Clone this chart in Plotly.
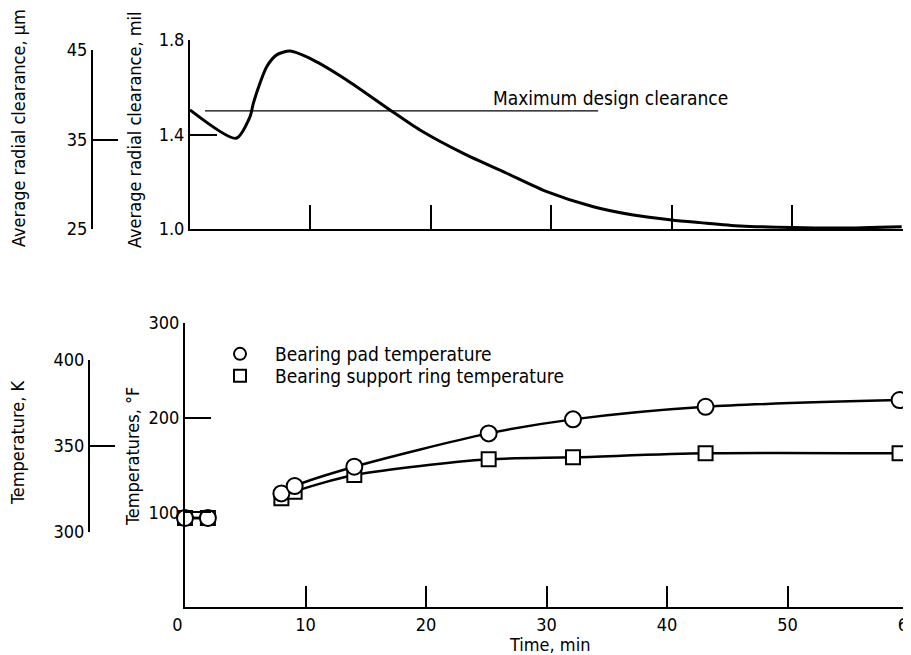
import plotly.graph_objects as go

# page shows the figure with an 8px body margin; size the figure to fill the window
OFF = 8
W, H = 911 - OFF, 655 - OFF
FONT = "Liberation Sans Narrow, DejaVu Sans Condensed, Arial Narrow, sans-serif"

# ---- top panel: clearance vs time ----
clr_t = [0, 3.82, 4.98, 5.26, 5.81, 6.37, 7.20, 8.31, 10.24, 13.01, 16.61, 19.10,
         22.70, 26.30, 29.63, 33.50, 36.82, 40.01, 42.36, 45.68, 50.06, 54.0, 59.11]
clr_mil = [1.504, 1.384, 1.475, 1.532, 1.617, 1.687, 1.737, 1.753, 1.715, 1.631, 1.504, 1.419,
           1.320, 1.236, 1.158, 1.094, 1.059, 1.038, 1.027, 1.013, 1.006, 1.004, 1.010]
design_t = [1.25, 33.9]
design_mil = [1.5, 1.5]

mil_ticks = [1.0, 1.4, 1.8]
mil_labels = ["1.0", "1.4", "1.8"]
um_ticks = [25, 35, 45]

# ---- bottom panel: temperatures vs time ----
temp_t = [0, 1.9, 8.0, 9.1, 14.05, 25.2, 32.2, 43.2, 59.3]
pad_F = [94, 94, 120, 127.8, 148.2, 183.4, 198.2, 211.5, 218.6]
ring_F = [94, 94, 114.8, 121.8, 139.4, 156.0, 158.1, 162.3, 162.3]

F_ticks = [100, 200, 300]
K_ticks = [300, 350, 400]
time_ticks = [0, 10, 20, 30, 40, 50, 60]
time_labels = ["0\u00a0\u00a0\u00a0", "10", "20", "30", "40", "50", "60"]


def py(p):
    return 1 - (p - OFF) / H


def px(p):
    return (p - OFF) / W


fig = go.Figure()

# top curve
fig.add_trace(go.Scatter(x=clr_t, y=clr_mil, mode="lines", xaxis="x", yaxis="y",
                         line=dict(color="black", width=3, shape="spline", smoothing=0.7),
                         showlegend=False, cliponaxis=False))
fig.add_trace(go.Scatter(x=design_t, y=design_mil, mode="lines", xaxis="x", yaxis="y",
                         line=dict(color="black", width=1.4), showlegend=False))
# dummy for um axis
fig.add_trace(go.Scatter(x=[None], y=[None], xaxis="x", yaxis="y3", showlegend=False))


# bottom curves: lines with a gap between 1.9 and 8 min
def with_gap(t, v):
    xs, ys = [], []
    for i, (a, b) in enumerate(zip(t, v)):
        if i == 2:
            xs.append(None)
            ys.append(None)
        xs.append(a)
        ys.append(b)
    return xs, ys


for vals in (pad_F, ring_F):
    gx, gy = with_gap(temp_t, vals)
    fig.add_trace(go.Scatter(x=gx, y=gy, mode="lines", xaxis="x2", yaxis="y2",
                             line=dict(color="black", width=2.5, shape="spline", smoothing=0.8),
                             showlegend=False, connectgaps=False, cliponaxis=False))

fig.add_trace(go.Scatter(x=temp_t, y=ring_F, mode="markers", xaxis="x2", yaxis="y2",
                         name="Bearing support ring temperature", legend="legend2",
                         marker=dict(symbol="square", size=14, color="white",
                                     line=dict(color="black", width=2)),
                         cliponaxis=False))
fig.add_trace(go.Scatter(x=temp_t, y=pad_F, mode="markers", xaxis="x2", yaxis="y2",
                         name="Bearing pad temperature", legend="legend",
                         marker=dict(symbol="circle", size=16, color="white",
                                     line=dict(color="black", width=2)),
                         cliponaxis=False))
# dummy for K axis
fig.add_trace(go.Scatter(x=[None], y=[None], xaxis="x2", yaxis="y4", showlegend=False))

tickfont = dict(family=FONT, size=18, color="black")
common = dict(showgrid=False, zeroline=False, showline=True, linecolor="black",
              linewidth=2, ticks="inside", tickcolor="black", tickwidth=2,
              tickfont=tickfont, automargin=False)
legfont = dict(family=FONT, size=19, color="black")
legcommon = dict(xanchor="left", yanchor="middle", font=legfont, itemwidth=60,
                 bgcolor="rgba(0,0,0,0)", borderwidth=0, itemsizing="constant")

fig.update_layout(
    template="none",
    width=W, height=H, autosize=False,
    margin=dict(l=0, r=0, t=0, b=0, pad=0),
    paper_bgcolor="white", plot_bgcolor="rgba(0,0,0,0)",
    font=dict(family=FONT, color="black", size=18),
    xaxis=dict(domain=[px(190), 1], range=[0, (911 - 190) / 12.04], anchor="y",
               tickvals=[10, 20, 30, 40, 50], showticklabels=False, ticklen=24, **common),
    yaxis=dict(domain=[py(229), py(40)], range=[1.0, 1.8], anchor="x",
               tickvals=mil_ticks, ticktext=mil_labels, ticklen=27, **common),
    yaxis3=dict(domain=[py(229), py(50)], range=[25, 45], anchor="free", position=px(92),
                tickvals=um_ticks, ticklen=25, **common),
    xaxis2=dict(domain=[px(185), 1], range=[0, (911 - 185) / 12.05], anchor="y2",
                tickvals=time_ticks, ticktext=time_labels, ticklen=21,
                ticklabeloverflow="allow", **common),
    yaxis2=dict(domain=[py(607), py(323)], range=[0, 300], anchor="x2",
                tickvals=F_ticks, ticklen=26, **common),
    yaxis4=dict(domain=[py(532), py(360)], range=[300, 400], anchor="free", position=px(89),
                tickvals=K_ticks, ticklen=25, **common),
    legend=dict(x=px(205), y=py(354), **legcommon),
    legend2=dict(x=px(205), y=py(376), **legcommon),
)

ann = dict(showarrow=False, font=dict(family=FONT, size=18, color="black"))
fig.add_annotation(text="Maximum design clearance", x=25.0, y=1.555, xref="x", yref="y",
                   xanchor="left", yanchor="middle",
                   font=dict(family=FONT, size=19, color="black"), showarrow=False)
fig.add_annotation(text="Average radial clearance, μm", x=px(18), y=py(128), xref="paper",
                   yref="paper", textangle=-90, xanchor="center", yanchor="middle", **ann)
fig.add_annotation(text="Average radial clearance, mil", x=px(134), y=py(130), xref="paper",
                   yref="paper", textangle=-90, xanchor="center", yanchor="middle", **ann)
fig.add_annotation(text="Temperature, K", x=px(18), y=py(443), xref="paper",
                   yref="paper", textangle=-90, xanchor="center", yanchor="middle", **ann)
fig.add_annotation(text="Temperatures, °F", x=px(132), y=py(457), xref="paper",
                   yref="paper", textangle=-90, xanchor="center", yanchor="middle", **ann)
fig.add_annotation(text="Time, min", x=px(549), y=py(644), xref="paper",
                   yref="paper", xanchor="center", yanchor="middle", **ann)

fig.write_html("out.html")
